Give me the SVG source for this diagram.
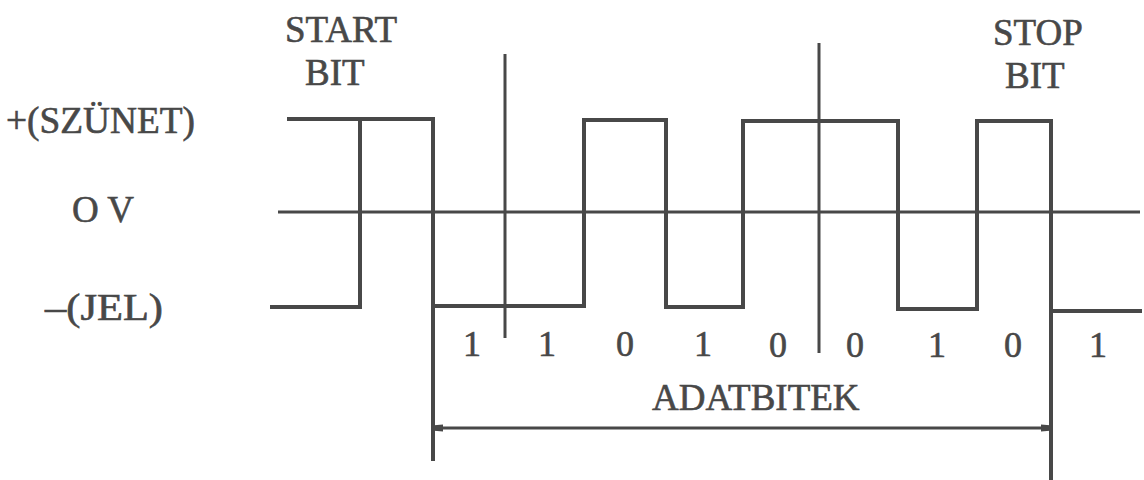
<svg xmlns="http://www.w3.org/2000/svg" width="1144" height="480" viewBox="0 0 1144 480">
<style>
  .ln{fill:none;stroke:#484848;stroke-width:4;stroke-linejoin:miter;stroke-linecap:butt}
  .thin{fill:none;stroke:#484848;stroke-width:3}
  .t{font-family:"Liberation Serif","Times New Roman",serif;font-size:37px;fill:#484848;stroke:#484848;stroke-width:0.6}
  .d{font-family:"Liberation Serif","Times New Roman",serif;font-size:36px;fill:#484848;stroke:#484848;stroke-width:0.6;text-anchor:middle}
</style>
<defs>
  <marker id="ah" viewBox="0 0 10 10" refX="10" refY="5" markerWidth="5" markerHeight="3" orient="auto-start-reverse" markerUnits="strokeWidth">
    <path d="M0,1 L10,2 L10,8 L0,9 Z" fill="#484848"/>
  </marker>
</defs>
<rect width="1144" height="480" fill="#ffffff"/>

<g id="labels">
  <text id="start-bit" class="t" x="285" y="42">START</text>
  <text class="t" x="305" y="85">BIT</text>
  <text id="stop-bit" class="t" x="993" y="45">STOP</text>
  <text class="t" x="1005" y="88">BIT</text>
  <text id="szunet" class="t" x="6" y="133" textLength="189" lengthAdjust="spacingAndGlyphs">+(SZÜNET)</text>
  <text id="ov" class="t" x="72" y="222">O V</text>
  <text id="jel" class="t" x="45" y="320" textLength="118" lengthAdjust="spacingAndGlyphs">–(JEL)</text>
  <text id="adatbitek" class="t" x="652" y="410">ADATBITEK</text>
</g>

<g id="bits">
  <text class="d" x="472" y="356">1</text>
  <text class="d" x="547" y="356">1</text>
  <text class="d" x="625" y="356">0</text>
  <text class="d" x="703" y="356">1</text>
  <text class="d" x="778" y="357">0</text>
  <text class="d" x="855" y="357">0</text>
  <text class="d" x="937" y="357">1</text>
  <text class="d" x="1013" y="357">0</text>
  <text class="d" x="1098" y="357">1</text>
</g>

<g id="connectors">
  <line class="thin" x1="278" y1="212" x2="1140" y2="212"/>
  <path class="ln" d="M270,307 H360 V120"/>
  <path class="ln" d="M287,119 H433 V306 H584 V120 H666 V307 H743 V121 H898 V309 H977 V121 H1053"/>
  <path class="ln" d="M1051,311 H1142"/>
  <line class="ln" x1="433" y1="119" x2="433" y2="461"/>
  <line class="ln" x1="1051" y1="121" x2="1051" y2="480"/>
  <line class="thin" x1="505" y1="54" x2="505" y2="338"/>
  <line class="thin" x1="819" y1="43" x2="819" y2="353"/>
  <line class="thin" x1="434" y1="428" x2="1050" y2="428" marker-start="url(#ah)" marker-end="url(#ah)"/>
</g>
</svg>
